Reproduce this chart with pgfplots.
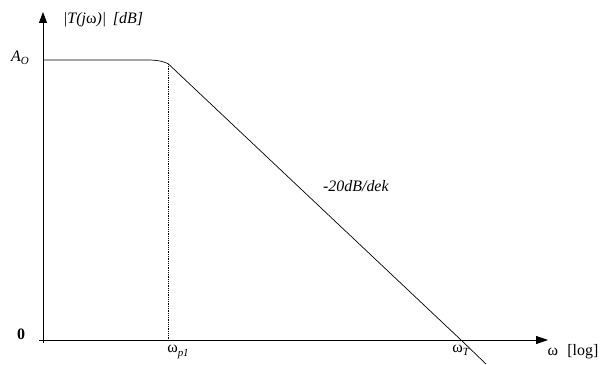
\documentclass[border=0pt]{standalone}
\usepackage{fontspec}
\setmainfont{Liberation Serif}
\usepackage{pgfplots}
\pgfplotsset{compat=1.18}
\usetikzlibrary{arrows.meta}
\begin{document}
\begin{tikzpicture}
\begin{axis}[
  name=bode,
  scale only axis, width=600bp, height=364bp,
  xmin=0, xmax=600, ymin=0, ymax=364,
  hide axis, clip=false,
  every axis plot/.append style={black, line width=0.8pt},
  font=\fontsize{16}{18}\selectfont,
]
% axes with arrow heads
\addplot[-{Triangle[length=11bp,width=8bp]}] coordinates {(43,21) (43,352)};
\addplot[-{Triangle[length=12bp,width=8bp]}] coordinates {(39,24) (548,24)};
% magnitude response: flat at A_O, rounded corner, -20 dB/dec roll-off
\addplot[line width=0.7pt] coordinates {
  (43,304) (150,304) (155,303.7) (160,303.0) (164,301.9) (168,300.4)
  (461,24) (486,0)};
% pole frequency marker
\addplot[densely dotted, line width=0.6pt] coordinates {(168,300) (168,24)};
% labels
\node at (axis cs:103,344) {\textit{|T(j\textup{ω})|\, [dB]}};
\node at (axis cs:20,306) {\textit{A}\raisebox{-0.4ex}{\fontsize{11}{12}\selectfont\textit{O}}};
\node at (axis cs:21,30) {\textbf{0}};
\node at (axis cs:356,178) {\textit{-20dB/dek}};
\node at (axis cs:178,12) {ω\raisebox{-0.45ex}{\fontsize{11}{12}\selectfont\textit{p1}}};
\node at (axis cs:461,14) {ω\raisebox{-0.45ex}{\fontsize{11}{12}\selectfont\textit{T}}};
\node at (axis cs:573,12) {ω\,\, [log]};
\end{axis}
\pgfresetboundingbox
\path[use as bounding box] (bode.south west) rectangle (bode.north east);
\end{tikzpicture}
\end{document}
